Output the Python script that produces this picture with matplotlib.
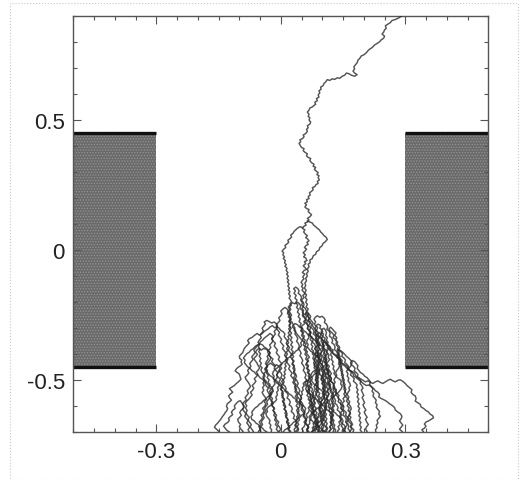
import matplotlib
matplotlib.use("Agg")
import matplotlib.pyplot as plt
from matplotlib.patches import Rectangle
from matplotlib.ticker import MultipleLocator, FixedLocator

plt.rcParams['font.family'] = ['Liberation Sans', 'DejaVu Sans']
plt.rcParams['hatch.linewidth'] = 0.6

# ---- axis ranges and ticks ----
x_limits = (-0.5, 0.5)
y_limits = (-0.7, 0.9)
x_major_ticks = [-0.3, 0.0, 0.3]
x_tick_labels = ['-0.3', '0', '0.3']
y_major_ticks = [-0.5, 0.0, 0.5]
y_tick_labels = ['-0.5', '0', '0.5']

# ---- electrode blocks: (x_left, x_right, y_bottom, y_top) ----
block_left = (-0.5, -0.3, -0.45, 0.45)
block_right = (0.3, 0.5, -0.45, 0.45)

# ---- particle trajectories (x, y) ----
walk_a = [(0.080,-0.705),(0.076,-0.696),(0.082,-0.690),(0.079,-0.682),(0.085,-0.676),(0.083,-0.668),(0.088,-0.662),(0.084,-0.654),(0.086,-0.646),(0.080,-0.640),(0.082,-0.632),(0.076,-0.626),(0.072,-0.618),(0.075,-0.610),(0.070,-0.604),(0.073,-0.596),(0.068,-0.588),(0.071,-0.580),(0.066,-0.574),(0.068,-0.566),(0.063,-0.558),(0.066,-0.550),(0.062,-0.542),(0.067,-0.536),(0.071,-0.528),(0.068,-0.520),(0.073,-0.514),(0.070,-0.506),(0.066,-0.498),(0.070,-0.490),(0.066,-0.484),(0.069,-0.476),(0.064,-0.470),(0.066,-0.462),(0.062,-0.454),(0.065,-0.446),(0.060,-0.440),(0.063,-0.432),(0.067,-0.426),(0.064,-0.418),(0.069,-0.412),(0.066,-0.404),(0.062,-0.398),(0.064,-0.390),(0.060,-0.382),(0.063,-0.374),(0.058,-0.368),(0.061,-0.360),(0.056,-0.354),(0.059,-0.346),(0.054,-0.338),(0.057,-0.330),(0.052,-0.324),(0.055,-0.316),(0.050,-0.310),(0.053,-0.302),(0.049,-0.294),(0.053,-0.288),(0.058,-0.282),(0.055,-0.274),(0.060,-0.268),(0.057,-0.260),(0.053,-0.254),(0.056,-0.246),(0.052,-0.240),(0.055,-0.232),(0.051,-0.224),(0.054,-0.216),(0.050,-0.210),(0.053,-0.202),(0.049,-0.196),(0.052,-0.188),(0.056,-0.182),(0.053,-0.174),(0.058,-0.168),(0.055,-0.160),(0.051,-0.154),(0.054,-0.146),(0.050,-0.140),(0.053,-0.132),(0.049,-0.124),(0.052,-0.116),(0.056,-0.110),(0.053,-0.104),(0.054,-0.100),
          (0.058,-0.092),(0.052,-0.086),(0.056,-0.078),(0.062,-0.074),(0.058,-0.066),(0.054,-0.060),(0.060,-0.052),(0.057,-0.044),(0.063,-0.040),(0.060,-0.030),(0.055,-0.026),(0.059,-0.018),(0.054,-0.010),(0.058,-0.004),(0.062,0.004),(0.057,0.010),(0.061,0.018),(0.066,0.022),(0.063,0.030),(0.068,0.036),(0.064,0.044),(0.060,0.048),(0.064,0.056),(0.059,0.062),(0.055,0.070),(0.058,0.078),(0.052,0.084),(0.056,0.092),(0.061,0.096),(0.058,0.104),(0.064,0.108),(0.068,0.116),(0.064,0.122),(0.070,0.128),(0.074,0.136),(0.070,0.142),(0.066,0.148),(0.068,0.156),(0.062,0.160),(0.058,0.166),(0.062,0.174),(0.058,0.180),(0.064,0.186),(0.062,0.194),(0.068,0.198),(0.066,0.206),(0.071,0.212),(0.069,0.220),(0.074,0.226),(0.078,0.232),(0.076,0.240),(0.082,0.244),(0.085,0.252),(0.090,0.256),(0.088,0.264),(0.093,0.270),(0.090,0.278),(0.092,0.286),(0.087,0.290),(0.090,0.298),(0.085,0.304),(0.081,0.310),(0.084,0.318),(0.078,0.322),(0.080,0.330),(0.074,0.336),(0.070,0.344),(0.072,0.352),(0.066,0.356),(0.062,0.362),(0.064,0.370),(0.058,0.376),(0.054,0.382),(0.056,0.390),(0.050,0.394),(0.047,0.402),(0.044,0.410),(0.048,0.416),(0.046,0.424),(0.052,0.428),(0.056,0.436),(0.054,0.442),(0.060,0.448),(0.064,0.456),(0.062,0.464),(0.066,0.470),(0.064,0.478),(0.070,0.484),(0.072,0.492),(0.068,0.500),(0.070,0.508),(0.066,0.514),(0.068,0.522),(0.064,0.530),(0.068,0.538),(0.070,0.546),(0.076,0.550),(0.080,0.556),(0.084,0.560),(0.082,0.568),(0.088,0.574),(0.086,0.582),(0.092,0.588),(0.090,0.596),(0.094,0.604),(0.092,0.612),(0.097,0.618),(0.096,0.626),(0.102,0.632),(0.104,0.640),(0.108,0.646),(0.112,0.655),(0.118,0.652),(0.124,0.658),(0.130,0.656),(0.136,0.662),(0.142,0.660),(0.148,0.668),(0.154,0.672),(0.158,0.680),(0.164,0.678),(0.170,0.672),(0.178,0.668),(0.184,0.674),(0.178,0.680),(0.174,0.688),(0.178,0.696),(0.176,0.704),(0.180,0.712),(0.184,0.720),(0.186,0.730),(0.190,0.736),(0.194,0.746),(0.200,0.750),(0.206,0.758),(0.210,0.766),(0.214,0.772),(0.220,0.778),(0.226,0.788),(0.232,0.794),(0.238,0.800),(0.242,0.808),(0.248,0.814),(0.250,0.822),(0.244,0.830),(0.248,0.838),(0.250,0.846),(0.254,0.852),(0.252,0.862),(0.258,0.868),(0.264,0.874),(0.268,0.882),(0.276,0.886),(0.284,0.892),(0.290,0.898),(0.296,0.905)]

walk_b = [(0.020,-0.705),(0.024,-0.696),(0.019,-0.688),(0.022,-0.680),(0.017,-0.672),(0.020,-0.664),(0.014,-0.658),(0.017,-0.650),(0.012,-0.642),(0.015,-0.634),(0.010,-0.626),(0.013,-0.618),(0.008,-0.610),(0.011,-0.602),(0.006,-0.596),(0.009,-0.588),(0.004,-0.580),(0.008,-0.572),(0.003,-0.566),(0.006,-0.558),(0.002,-0.550),(0.005,-0.542),(0.000,-0.536),(0.004,-0.528),(0.001,-0.520),(0.005,-0.512),(0.002,-0.504),(0.006,-0.498),(0.010,-0.490),(0.007,-0.482),(0.011,-0.476),(0.008,-0.468),(0.012,-0.460),(0.009,-0.452),(0.013,-0.446),(0.010,-0.438),(0.014,-0.430),(0.011,-0.422),(0.015,-0.416),(0.012,-0.408),(0.016,-0.400),(0.013,-0.392),(0.017,-0.386),(0.014,-0.378),(0.018,-0.370),(0.015,-0.362),(0.019,-0.356),(0.016,-0.348),(0.020,-0.340),(0.017,-0.332),(0.021,-0.326),(0.018,-0.318),(0.022,-0.310),(0.019,-0.302),(0.023,-0.296),(0.020,-0.288),(0.024,-0.280),(0.021,-0.272),(0.025,-0.266),(0.022,-0.258),(0.026,-0.250),(0.023,-0.242),(0.020,-0.236),(0.024,-0.228),(0.021,-0.220),(0.025,-0.212),(0.022,-0.206),(0.026,-0.198),(0.023,-0.190),(0.020,-0.184),(0.023,-0.176),(0.019,-0.168),(0.022,-0.160),(0.018,-0.152),(0.021,-0.146),(0.017,-0.138),(0.020,-0.130),(0.016,-0.122),(0.019,-0.116),(0.015,-0.108),(0.018,-0.100),(0.014,-0.092),(0.017,-0.086),(0.013,-0.078),(0.015,-0.070),(0.010,-0.062),(0.013,-0.056),(0.009,-0.048),(0.011,-0.040),(0.006,-0.032),(0.009,-0.026),(0.005,-0.018),(0.007,-0.010),(0.003,-0.004),(0.007,0.004),(0.012,0.010),(0.010,0.018),(0.015,0.024),(0.019,0.030),(0.017,0.038),(0.022,0.044),(0.026,0.050),(0.024,0.058),(0.029,0.064),(0.032,0.072),(0.036,0.078),(0.040,0.084),(0.046,0.090),(0.052,0.087)]

walk_c = [(0.110,-0.705),(0.106,-0.694),(0.111,-0.686),(0.107,-0.676),(0.104,-0.668),(0.108,-0.658),(0.103,-0.650),(0.106,-0.640),(0.101,-0.632),(0.098,-0.622),(0.102,-0.614),(0.097,-0.604),(0.100,-0.596),(0.095,-0.586),(0.092,-0.578),(0.096,-0.568),(0.091,-0.560),(0.094,-0.550),(0.089,-0.542),(0.092,-0.532),(0.087,-0.524),(0.090,-0.514),(0.086,-0.506),(0.089,-0.496),(0.084,-0.488),(0.087,-0.478),(0.082,-0.470),(0.085,-0.460),(0.080,-0.452),(0.083,-0.442),(0.079,-0.434),(0.082,-0.424),(0.077,-0.416),(0.080,-0.406),(0.076,-0.398),(0.079,-0.388),(0.074,-0.380),(0.077,-0.370),(0.073,-0.362),(0.076,-0.352),(0.071,-0.344),(0.074,-0.334),(0.070,-0.326),(0.073,-0.316),(0.069,-0.308),(0.072,-0.298),(0.067,-0.290),(0.070,-0.280),(0.066,-0.272),(0.069,-0.262),(0.064,-0.254),(0.067,-0.244),(0.063,-0.236),(0.066,-0.226),(0.061,-0.218),(0.064,-0.208),(0.060,-0.200),(0.063,-0.190),(0.059,-0.182),(0.062,-0.172),(0.058,-0.164),(0.061,-0.154),(0.057,-0.146),(0.060,-0.136),(0.058,-0.126),(0.062,-0.118),(0.060,-0.108),(0.064,-0.100),(0.062,-0.090),(0.066,-0.082),(0.064,-0.072),(0.068,-0.064),(0.066,-0.054),(0.071,-0.048),(0.070,-0.038),(0.076,-0.032),(0.078,-0.022),(0.084,-0.016),(0.086,-0.006),(0.092,0.000),(0.094,0.010),(0.099,0.016),(0.102,0.026),(0.107,0.032),(0.112,0.041),(0.109,0.050),(0.104,0.056),(0.100,0.064),(0.096,0.070),(0.093,0.078),(0.088,0.084),(0.084,0.090),(0.079,0.096),(0.076,0.104),(0.070,0.108),(0.064,0.112)]

walk_d = [(-0.153,-0.705),(-0.149,-0.696),(-0.155,-0.688),(-0.160,-0.680),(-0.157,-0.672),(-0.152,-0.664),(-0.148,-0.656),(-0.144,-0.648),(-0.141,-0.640),(-0.137,-0.632),(-0.134,-0.624),(-0.130,-0.616),(-0.128,-0.608),(-0.131,-0.600),(-0.129,-0.590),(-0.124,-0.584),(-0.119,-0.576),(-0.123,-0.568),(-0.126,-0.560),(-0.121,-0.552),(-0.116,-0.546),(-0.120,-0.538),(-0.124,-0.532),(-0.118,-0.526),(-0.112,-0.520),(-0.107,-0.512),(-0.101,-0.504),(-0.096,-0.496),(-0.098,-0.486),(-0.100,-0.476),(-0.105,-0.470),(-0.110,-0.464),(-0.107,-0.456),(-0.103,-0.450),(-0.097,-0.444),(-0.093,-0.438),(-0.096,-0.430),(-0.094,-0.422),(-0.099,-0.416),(-0.100,-0.408),(-0.096,-0.400),(-0.092,-0.394),(-0.090,-0.386),(-0.088,-0.378),(-0.084,-0.370),(-0.079,-0.362),(-0.076,-0.356),(-0.080,-0.348),(-0.076,-0.340),(-0.069,-0.335),(-0.064,-0.328),(-0.057,-0.320),(-0.052,-0.326),(-0.046,-0.322),(-0.041,-0.314),(-0.036,-0.308),(-0.030,-0.302),(-0.025,-0.294),(-0.020,-0.290),(-0.015,-0.298),(-0.009,-0.294),(-0.004,-0.300),(0.000,-0.308),(0.006,-0.314),(0.010,-0.322),(0.008,-0.332),(0.012,-0.340),(0.016,-0.348),(0.013,-0.358),(0.017,-0.366),(0.021,-0.374),(0.018,-0.384),(0.022,-0.392),(0.026,-0.400),(0.023,-0.410),(0.027,-0.418),(0.030,-0.428),(0.027,-0.438),(0.031,-0.446),(0.034,-0.456),(0.031,-0.466),(0.035,-0.474),(0.038,-0.484),(0.035,-0.494),(0.039,-0.502),(0.042,-0.512),(0.039,-0.522),(0.043,-0.530),(0.046,-0.540),(0.043,-0.550),(0.047,-0.558),(0.050,-0.568),(0.047,-0.578),(0.051,-0.586),(0.054,-0.596),(0.051,-0.606),(0.055,-0.614),(0.058,-0.624),(0.055,-0.634),(0.059,-0.642),(0.062,-0.652),(0.059,-0.662),(0.063,-0.670),(0.066,-0.680),(0.063,-0.690),(0.066,-0.705)]

walk_e = [(0.050,-0.705),(0.054,-0.696),(0.051,-0.686),(0.056,-0.678),(0.059,-0.668),(0.056,-0.660),(0.061,-0.650),(0.064,-0.642),(0.061,-0.632),(0.066,-0.624),(0.069,-0.614),(0.066,-0.606),(0.071,-0.596),(0.074,-0.588),(0.071,-0.578),(0.076,-0.570),(0.079,-0.560),(0.076,-0.552),(0.080,-0.542),(0.083,-0.534),(0.080,-0.524),(0.084,-0.516),(0.087,-0.506),(0.084,-0.498),(0.088,-0.488),(0.085,-0.478),(0.089,-0.470),(0.086,-0.460),(0.090,-0.452),(0.087,-0.442),(0.091,-0.434),(0.088,-0.424),(0.092,-0.416),(0.089,-0.406),(0.093,-0.398),(0.090,-0.388),(0.094,-0.380),(0.091,-0.370),(0.095,-0.362),(0.092,-0.352),(0.088,-0.344),(0.091,-0.334),(0.087,-0.326),(0.090,-0.316),(0.086,-0.308),(0.089,-0.298),(0.085,-0.290),(0.090,-0.284),(0.096,-0.290),(0.094,-0.300),(0.099,-0.306),(0.097,-0.316),(0.103,-0.322),(0.101,-0.332),(0.107,-0.338),(0.105,-0.348),(0.111,-0.354),(0.109,-0.364),(0.116,-0.370),(0.120,-0.378),(0.126,-0.384),(0.124,-0.394),(0.130,-0.400),(0.136,-0.406),(0.142,-0.414),(0.148,-0.424),(0.146,-0.432),(0.152,-0.438),(0.158,-0.444),(0.162,-0.452),(0.166,-0.462),(0.172,-0.466),(0.178,-0.472),(0.180,-0.482),(0.186,-0.488),(0.192,-0.494),(0.198,-0.500),(0.204,-0.506),(0.210,-0.502),(0.216,-0.508),(0.222,-0.512),(0.228,-0.506),(0.234,-0.502),(0.240,-0.508),(0.246,-0.512),(0.252,-0.506),(0.258,-0.500),(0.264,-0.496),(0.270,-0.502),(0.276,-0.506),(0.282,-0.500),(0.288,-0.498),(0.294,-0.504),(0.300,-0.512),(0.304,-0.520),(0.310,-0.528),(0.316,-0.536),(0.314,-0.546),(0.318,-0.554),(0.324,-0.560),(0.326,-0.570),(0.324,-0.580),(0.330,-0.586),(0.336,-0.592),(0.338,-0.602),(0.344,-0.608),(0.350,-0.616),(0.356,-0.622),(0.360,-0.630),(0.366,-0.636),(0.368,-0.644),(0.362,-0.650),(0.356,-0.656),(0.350,-0.660),(0.346,-0.668),(0.350,-0.676),(0.346,-0.684),(0.340,-0.690),(0.344,-0.698),(0.342,-0.705)]

walk_f = [(0.120,-0.705),(0.116,-0.696),(0.121,-0.688),(0.118,-0.678),(0.123,-0.670),(0.120,-0.660),(0.125,-0.652),(0.122,-0.642),(0.127,-0.634),(0.124,-0.624),(0.128,-0.616),(0.125,-0.606),(0.129,-0.598),(0.126,-0.588),(0.122,-0.580),(0.125,-0.570),(0.121,-0.562),(0.124,-0.552),(0.119,-0.544),(0.122,-0.534),(0.117,-0.526),(0.120,-0.516),(0.115,-0.508),(0.118,-0.498),(0.113,-0.490),(0.116,-0.480),(0.111,-0.472),(0.114,-0.462),(0.109,-0.454),(0.112,-0.444),(0.107,-0.436),(0.110,-0.426),(0.105,-0.418),(0.108,-0.408),(0.103,-0.400),(0.106,-0.390),(0.101,-0.382),(0.104,-0.372),(0.100,-0.364),(0.104,-0.354),(0.110,-0.358),(0.114,-0.366),(0.112,-0.376),(0.118,-0.382),(0.124,-0.388),(0.126,-0.398),(0.132,-0.406),(0.136,-0.414),(0.142,-0.420),(0.144,-0.430),(0.148,-0.438),(0.154,-0.444),(0.158,-0.452),(0.164,-0.460),(0.170,-0.466),(0.174,-0.474),(0.176,-0.484),(0.182,-0.490),(0.188,-0.498),(0.194,-0.506),(0.200,-0.514),(0.206,-0.520),(0.212,-0.518),(0.218,-0.524),(0.224,-0.532),(0.228,-0.540),(0.234,-0.546),(0.238,-0.554),(0.236,-0.564),(0.242,-0.570),(0.250,-0.576),(0.256,-0.582),(0.262,-0.590),(0.268,-0.596),(0.274,-0.604),(0.276,-0.614),(0.282,-0.622),(0.288,-0.628),(0.292,-0.638),(0.290,-0.648),(0.286,-0.656),(0.290,-0.664),(0.294,-0.672),(0.290,-0.680),(0.286,-0.688),(0.292,-0.696),(0.296,-0.705)]

walk_g = [(-0.070,-0.705),(-0.066,-0.696),(-0.070,-0.688),(-0.074,-0.678),(-0.071,-0.670),(-0.076,-0.660),(-0.079,-0.652),(-0.076,-0.642),(-0.081,-0.634),(-0.084,-0.624),(-0.081,-0.616),(-0.085,-0.606),(-0.082,-0.598),(-0.086,-0.588),(-0.082,-0.580),(-0.077,-0.572),(-0.073,-0.564),(-0.069,-0.556),(-0.073,-0.546),(-0.068,-0.538),(-0.065,-0.530),(-0.069,-0.520),(-0.064,-0.512),(-0.060,-0.504),(-0.064,-0.494),(-0.059,-0.486),(-0.055,-0.478),(-0.059,-0.468),(-0.054,-0.460),(-0.051,-0.452),(-0.055,-0.442),(-0.058,-0.432),(-0.062,-0.424),(-0.065,-0.416),(-0.060,-0.408),(-0.056,-0.400),(-0.061,-0.392),(-0.058,-0.384),(-0.053,-0.378),(-0.047,-0.384),(-0.042,-0.378),(-0.036,-0.380),(-0.030,-0.386),(-0.026,-0.394),(-0.029,-0.404),(-0.024,-0.412),(-0.019,-0.418),(-0.022,-0.428),(-0.018,-0.436),(-0.013,-0.444),(-0.016,-0.454),(-0.012,-0.462),(-0.007,-0.470),(-0.010,-0.480),(-0.006,-0.488),(-0.001,-0.496),(-0.004,-0.506),(0.000,-0.514),(0.003,-0.524),(-0.001,-0.532),(0.003,-0.540),(0.006,-0.550),(0.002,-0.558),(0.006,-0.566),(0.009,-0.576),(0.005,-0.584),(0.009,-0.592),(0.012,-0.602),(0.008,-0.610),(0.012,-0.618),(0.015,-0.628),(0.011,-0.636),(0.015,-0.644),(0.018,-0.654),(0.014,-0.662),(0.018,-0.670),(0.021,-0.680),(0.017,-0.688),(0.021,-0.696),(0.019,-0.705)]

walk_h = [(-0.095,-0.705),(-0.091,-0.696),(-0.096,-0.688),(-0.100,-0.678),(-0.097,-0.670),(-0.102,-0.660),(-0.104,-0.650),(-0.099,-0.642),(-0.095,-0.634),(-0.099,-0.624),(-0.096,-0.616),(-0.091,-0.608),(-0.088,-0.600),(-0.092,-0.590),(-0.088,-0.582),(-0.083,-0.576),(-0.086,-0.566),(-0.082,-0.558),(-0.078,-0.550),(-0.081,-0.540),(-0.077,-0.532),(-0.073,-0.524),(-0.076,-0.514),(-0.080,-0.504),(-0.084,-0.496),(-0.086,-0.488),(-0.081,-0.480),(-0.077,-0.472),(-0.080,-0.462),(-0.076,-0.454),(-0.072,-0.446),(-0.075,-0.436),(-0.071,-0.428),(-0.067,-0.420),(-0.070,-0.410),(-0.066,-0.402),(-0.062,-0.394),(-0.065,-0.384),(-0.061,-0.376),(-0.057,-0.368),(-0.052,-0.360),(-0.049,-0.352),(-0.044,-0.346),(-0.040,-0.338),(-0.035,-0.332),(-0.030,-0.326),(-0.026,-0.320),(-0.021,-0.326),(-0.018,-0.334),(-0.022,-0.342),(-0.018,-0.350),(-0.013,-0.358),(-0.016,-0.368),(-0.012,-0.376),(-0.008,-0.384),(-0.011,-0.394),(-0.007,-0.402),(-0.003,-0.410),(-0.006,-0.420),(-0.002,-0.428),(0.002,-0.436),(-0.001,-0.446),(0.002,-0.454),(-0.002,-0.462),(-0.006,-0.470),(-0.010,-0.478),(-0.008,-0.488),(-0.012,-0.496),(-0.016,-0.504),(-0.014,-0.514),(-0.018,-0.522),(-0.022,-0.530),(-0.020,-0.540),(-0.024,-0.548),(-0.028,-0.556),(-0.026,-0.566),(-0.030,-0.574),(-0.034,-0.582),(-0.032,-0.592),(-0.036,-0.600),(-0.039,-0.608),(-0.036,-0.618),(-0.040,-0.626),(-0.043,-0.634),(-0.040,-0.644),(-0.044,-0.652),(-0.047,-0.660),(-0.044,-0.670),(-0.048,-0.678),(-0.051,-0.686),(-0.048,-0.696),(-0.050,-0.705)]

walk_i = [(0.090,-0.705),(0.094,-0.696),(0.090,-0.688),(0.093,-0.678),(0.088,-0.670),(0.091,-0.660),(0.086,-0.652),(0.089,-0.642),(0.084,-0.634),(0.087,-0.624),(0.082,-0.616),(0.085,-0.606),(0.080,-0.598),(0.083,-0.588),(0.078,-0.580),(0.081,-0.570),(0.076,-0.562),(0.079,-0.552),(0.074,-0.544),(0.077,-0.534),(0.072,-0.526),(0.075,-0.516),(0.070,-0.508),(0.073,-0.498),(0.068,-0.490),(0.071,-0.480),(0.066,-0.472),(0.069,-0.462),(0.064,-0.454),(0.067,-0.444),(0.062,-0.436),(0.065,-0.426),(0.060,-0.418),(0.063,-0.408),(0.058,-0.400),(0.061,-0.390),(0.056,-0.382),(0.059,-0.372),(0.054,-0.364),(0.057,-0.354),(0.052,-0.346),(0.055,-0.336),(0.050,-0.328),(0.053,-0.318),(0.048,-0.310),(0.051,-0.300),(0.046,-0.292),(0.049,-0.282),(0.044,-0.274),(0.047,-0.264),(0.042,-0.256),(0.045,-0.246),(0.040,-0.238),(0.043,-0.228),(0.038,-0.220),(0.041,-0.210),(0.036,-0.202),(0.039,-0.192),(0.034,-0.184),(0.037,-0.174),(0.032,-0.166),(0.035,-0.156),(0.031,-0.148),(0.036,-0.142),(0.041,-0.148),(0.044,-0.156),(0.042,-0.166),(0.047,-0.172),(0.050,-0.182),(0.048,-0.192),(0.053,-0.198),(0.056,-0.208),(0.054,-0.218),(0.059,-0.224),(0.062,-0.234),(0.060,-0.244),(0.065,-0.250),(0.068,-0.260),(0.066,-0.270),(0.071,-0.276),(0.074,-0.286),(0.072,-0.296),(0.077,-0.302),(0.080,-0.312),(0.078,-0.322),(0.083,-0.328),(0.086,-0.338),(0.084,-0.348),(0.089,-0.354),(0.092,-0.364),(0.090,-0.374),(0.095,-0.380),(0.098,-0.390),(0.096,-0.400),(0.101,-0.406),(0.104,-0.416),(0.102,-0.426),(0.107,-0.432),(0.110,-0.442),(0.108,-0.452),(0.113,-0.458),(0.116,-0.468),(0.114,-0.478),(0.119,-0.484),(0.122,-0.494),(0.120,-0.504),(0.125,-0.510),(0.128,-0.520),(0.126,-0.530),(0.131,-0.536),(0.134,-0.546),(0.132,-0.556),(0.137,-0.562),(0.140,-0.572),(0.138,-0.582),(0.143,-0.588),(0.146,-0.598),(0.144,-0.608),(0.149,-0.614),(0.152,-0.624),(0.150,-0.634),(0.155,-0.640),(0.158,-0.650),(0.156,-0.660),(0.161,-0.666),(0.164,-0.676),(0.162,-0.686),(0.166,-0.694),(0.168,-0.705)]

walk_j = [(0.140,-0.705),(0.136,-0.696),(0.141,-0.688),(0.138,-0.678),(0.143,-0.670),(0.140,-0.660),(0.145,-0.652),(0.142,-0.642),(0.147,-0.634),(0.144,-0.624),(0.149,-0.616),(0.146,-0.606),(0.151,-0.598),(0.148,-0.588),(0.153,-0.580),(0.150,-0.570),(0.155,-0.562),(0.152,-0.552),(0.156,-0.544),(0.152,-0.534),(0.155,-0.526),(0.150,-0.516),(0.153,-0.508),(0.148,-0.498),(0.151,-0.490),(0.146,-0.480),(0.149,-0.472),(0.144,-0.462),(0.147,-0.454),(0.142,-0.444),(0.145,-0.436),(0.140,-0.426),(0.143,-0.418),(0.138,-0.408),(0.141,-0.400),(0.136,-0.390),(0.139,-0.382),(0.144,-0.386),(0.149,-0.392),(0.154,-0.400),(0.158,-0.408),(0.163,-0.414),(0.168,-0.422),(0.172,-0.430),(0.170,-0.440),(0.175,-0.446),(0.179,-0.454),(0.177,-0.464),(0.182,-0.470),(0.186,-0.478),(0.184,-0.488),(0.189,-0.494),(0.193,-0.502),(0.191,-0.512),(0.195,-0.520),(0.198,-0.530),(0.194,-0.538),(0.197,-0.548),(0.200,-0.558),(0.196,-0.566),(0.199,-0.576),(0.202,-0.586),(0.198,-0.594),(0.201,-0.604),(0.205,-0.614),(0.201,-0.622),(0.204,-0.632),(0.208,-0.642),(0.204,-0.650),(0.207,-0.660),(0.211,-0.670),(0.207,-0.678),(0.204,-0.688),(0.208,-0.696),(0.205,-0.705)]

walk_k = [(0.070,-0.705),(0.075,-0.698),(0.080,-0.690),(0.085,-0.684),(0.090,-0.676),(0.088,-0.666),(0.093,-0.660),(0.097,-0.652),(0.095,-0.642),(0.100,-0.636),(0.104,-0.628),(0.102,-0.618),(0.107,-0.612),(0.110,-0.604),(0.107,-0.594),(0.111,-0.586),(0.114,-0.578),(0.110,-0.568),(0.113,-0.560),(0.116,-0.552),(0.112,-0.542),(0.115,-0.534),(0.118,-0.526),(0.114,-0.516),(0.117,-0.508),(0.120,-0.500),(0.116,-0.490),(0.119,-0.482),(0.122,-0.474),(0.118,-0.464),(0.114,-0.456),(0.117,-0.446),(0.112,-0.438),(0.108,-0.430),(0.111,-0.420),(0.106,-0.412),(0.109,-0.402),(0.104,-0.394),(0.107,-0.384),(0.102,-0.376),(0.105,-0.366),(0.100,-0.358),(0.103,-0.348),(0.098,-0.340),(0.101,-0.330),(0.096,-0.322),(0.092,-0.316),(0.090,-0.326),(0.094,-0.334),(0.090,-0.344),(0.086,-0.352),(0.090,-0.362),(0.086,-0.370),(0.082,-0.378),(0.086,-0.388),(0.082,-0.396),(0.086,-0.406),(0.082,-0.414),(0.080,-0.424),(0.084,-0.432),(0.080,-0.442),(0.085,-0.450),(0.090,-0.456),(0.094,-0.464),(0.091,-0.474),(0.096,-0.480),(0.100,-0.488),(0.097,-0.498),(0.102,-0.504),(0.100,-0.514),(0.104,-0.522),(0.101,-0.532),(0.105,-0.540),(0.102,-0.550),(0.106,-0.558),(0.103,-0.568),(0.107,-0.576),(0.104,-0.586),(0.108,-0.594),(0.105,-0.604),(0.109,-0.612),(0.106,-0.622),(0.110,-0.630),(0.107,-0.640),(0.111,-0.648),(0.108,-0.658),(0.112,-0.666),(0.109,-0.676),(0.113,-0.684),(0.110,-0.694),(0.112,-0.705)]

walk_l = [(-0.010,-0.705),(-0.006,-0.696),(-0.011,-0.688),(-0.008,-0.678),(-0.013,-0.670),(-0.010,-0.660),(-0.015,-0.652),(-0.012,-0.642),(-0.017,-0.634),(-0.014,-0.624),(-0.019,-0.616),(-0.016,-0.606),(-0.021,-0.598),(-0.018,-0.588),(-0.023,-0.580),(-0.020,-0.570),(-0.025,-0.562),(-0.022,-0.552),(-0.027,-0.544),(-0.024,-0.534),(-0.029,-0.526),(-0.026,-0.516),(-0.031,-0.508),(-0.028,-0.498),(-0.033,-0.490),(-0.030,-0.480),(-0.035,-0.472),(-0.032,-0.462),(-0.036,-0.454),(-0.033,-0.444),(-0.037,-0.436),(-0.034,-0.426),(-0.030,-0.418),(-0.033,-0.408),(-0.029,-0.400),(-0.032,-0.390),(-0.028,-0.382),(-0.024,-0.374),(-0.027,-0.364),(-0.022,-0.356),(-0.019,-0.348),(-0.022,-0.338),(-0.017,-0.330),(-0.013,-0.322),(-0.016,-0.312),(-0.011,-0.304),(-0.008,-0.296),(-0.011,-0.286),(-0.006,-0.278),(-0.002,-0.270),(-0.005,-0.260),(0.000,-0.252),(0.003,-0.244),(0.000,-0.234),(0.005,-0.226),(0.010,-0.220),(0.015,-0.226),(0.018,-0.234),(0.016,-0.244),(0.021,-0.250),(0.024,-0.260),(0.022,-0.270),(0.027,-0.276),(0.030,-0.286),(0.028,-0.296),(0.033,-0.302),(0.036,-0.312),(0.034,-0.322),(0.038,-0.330),(0.041,-0.340),(0.038,-0.350),(0.042,-0.358),(0.045,-0.368),(0.042,-0.378),(0.046,-0.386),(0.049,-0.396),(0.046,-0.406),(0.050,-0.414),(0.053,-0.424),(0.050,-0.434),(0.054,-0.442),(0.057,-0.452),(0.054,-0.462),(0.058,-0.470),(0.061,-0.480),(0.058,-0.490),(0.062,-0.498),(0.065,-0.508),(0.062,-0.518),(0.066,-0.526),(0.069,-0.536),(0.066,-0.546),(0.070,-0.554),(0.073,-0.564),(0.070,-0.574),(0.074,-0.582),(0.077,-0.592),(0.074,-0.602),(0.078,-0.610),(0.081,-0.620),(0.078,-0.630),(0.082,-0.638),(0.085,-0.648),(0.082,-0.658),(0.086,-0.666),(0.089,-0.676),(0.086,-0.686),(0.090,-0.694),(0.092,-0.705)]

walk_m = [(0.170,-0.705),(0.166,-0.696),(0.171,-0.688),(0.168,-0.678),(0.173,-0.670),(0.170,-0.660),(0.166,-0.652),(0.169,-0.642),(0.164,-0.634),(0.167,-0.624),(0.162,-0.616),(0.165,-0.606),(0.160,-0.598),(0.163,-0.588),(0.158,-0.580),(0.161,-0.570),(0.156,-0.562),(0.159,-0.552),(0.154,-0.544),(0.157,-0.534),(0.152,-0.526),(0.155,-0.516),(0.150,-0.508),(0.153,-0.498),(0.148,-0.490),(0.151,-0.480),(0.146,-0.472),(0.149,-0.462),(0.144,-0.454),(0.147,-0.444),(0.142,-0.436),(0.145,-0.426),(0.140,-0.418),(0.143,-0.408),(0.138,-0.400),(0.141,-0.390),(0.136,-0.382),(0.139,-0.372),(0.134,-0.364),(0.137,-0.354),(0.132,-0.346),(0.135,-0.336),(0.130,-0.328),(0.133,-0.318),(0.128,-0.310),(0.124,-0.302),(0.120,-0.296),(0.116,-0.302),(0.119,-0.312),(0.124,-0.318),(0.128,-0.326),(0.126,-0.336),(0.131,-0.342),(0.135,-0.350),(0.133,-0.360),(0.138,-0.366),(0.142,-0.374),(0.140,-0.384),(0.145,-0.390),(0.149,-0.398),(0.147,-0.408),(0.152,-0.414),(0.156,-0.422),(0.154,-0.432),(0.159,-0.438),(0.163,-0.446),(0.161,-0.456),(0.166,-0.462),(0.170,-0.470),(0.168,-0.480),(0.173,-0.486),(0.177,-0.494),(0.175,-0.504),(0.180,-0.510),(0.184,-0.518),(0.182,-0.528),(0.186,-0.536),(0.183,-0.546),(0.187,-0.554),(0.184,-0.564),(0.188,-0.572),(0.185,-0.582),(0.189,-0.590),(0.186,-0.600),(0.190,-0.608),(0.187,-0.618),(0.191,-0.626),(0.188,-0.636),(0.192,-0.644),(0.189,-0.654),(0.193,-0.662),(0.190,-0.672),(0.194,-0.680),(0.191,-0.690),(0.195,-0.698),(0.192,-0.705)]

walk_n = [(-0.050,-0.705),(-0.054,-0.696),(-0.049,-0.688),(-0.053,-0.678),(-0.048,-0.670),(-0.052,-0.660),(-0.047,-0.652),(-0.044,-0.642),(-0.048,-0.634),(-0.043,-0.626),(-0.040,-0.616),(-0.044,-0.608),(-0.039,-0.600),(-0.036,-0.590),(-0.040,-0.582),(-0.035,-0.574),(-0.038,-0.564),(-0.042,-0.556),(-0.045,-0.546),(-0.041,-0.538),(-0.044,-0.528),(-0.040,-0.520),(-0.043,-0.510),(-0.039,-0.502),(-0.042,-0.492),(-0.038,-0.484),(-0.041,-0.474),(-0.036,-0.466),(-0.039,-0.456),(-0.034,-0.448),(-0.030,-0.440),(-0.025,-0.434),(-0.020,-0.440),(-0.015,-0.446),(-0.010,-0.440),(-0.005,-0.446),(-0.002,-0.454),(-0.005,-0.464),(0.000,-0.470),(0.003,-0.480),(0.000,-0.490),(0.005,-0.496),(0.008,-0.506),(0.005,-0.516),(0.010,-0.522),(0.013,-0.532),(0.010,-0.542),(0.015,-0.548),(0.018,-0.558),(0.015,-0.568),(0.020,-0.574),(0.023,-0.584),(0.020,-0.594),(0.025,-0.600),(0.028,-0.610),(0.025,-0.620),(0.030,-0.626),(0.033,-0.636),(0.030,-0.646),(0.035,-0.652),(0.038,-0.662),(0.035,-0.672),(0.040,-0.678),(0.043,-0.688),(0.040,-0.698),(0.044,-0.705)]

walk_o = [(0.040,-0.705),(0.036,-0.696),(0.041,-0.688),(0.038,-0.678),(0.043,-0.670),(0.040,-0.660),(0.045,-0.652),(0.042,-0.642),(0.046,-0.634),(0.042,-0.624),(0.038,-0.616),(0.042,-0.606),(0.037,-0.598),(0.041,-0.588),(0.036,-0.580),(0.040,-0.570),(0.035,-0.562),(0.039,-0.552),(0.034,-0.544),(0.038,-0.534),(0.033,-0.526),(0.037,-0.516),(0.032,-0.508),(0.036,-0.498),(0.031,-0.490),(0.035,-0.480),(0.030,-0.472),(0.034,-0.462),(0.029,-0.454),(0.033,-0.444),(0.028,-0.436),(0.032,-0.426),(0.027,-0.418),(0.031,-0.408),(0.026,-0.400),(0.030,-0.390),(0.025,-0.382),(0.029,-0.372),(0.024,-0.364),(0.028,-0.354),(0.023,-0.346),(0.027,-0.336),(0.022,-0.328),(0.026,-0.318),(0.021,-0.310),(0.025,-0.300),(0.020,-0.292),(0.024,-0.282),(0.019,-0.274),(0.023,-0.264),(0.018,-0.256),(0.022,-0.246),(0.017,-0.238),(0.021,-0.228),(0.018,-0.218),(0.023,-0.210),(0.028,-0.202),(0.034,-0.206),(0.040,-0.200),(0.045,-0.206),(0.048,-0.214),(0.046,-0.224),(0.051,-0.230),(0.054,-0.240),(0.052,-0.250),(0.057,-0.256),(0.060,-0.266),(0.058,-0.276),(0.063,-0.282),(0.066,-0.292),(0.064,-0.302),(0.069,-0.308),(0.072,-0.318),(0.070,-0.328),(0.075,-0.334),(0.078,-0.344),(0.076,-0.354),(0.081,-0.360),(0.084,-0.370),(0.082,-0.380),(0.087,-0.386),(0.090,-0.396),(0.088,-0.406),(0.093,-0.412),(0.096,-0.422),(0.094,-0.432),(0.099,-0.438),(0.102,-0.448),(0.100,-0.458),(0.105,-0.464),(0.108,-0.474),(0.106,-0.484),(0.111,-0.490),(0.114,-0.500),(0.112,-0.510),(0.117,-0.516),(0.120,-0.526),(0.118,-0.536),(0.123,-0.542),(0.126,-0.552),(0.124,-0.562),(0.129,-0.568),(0.132,-0.578),(0.130,-0.588),(0.135,-0.594),(0.138,-0.604),(0.136,-0.614),(0.141,-0.620),(0.144,-0.630),(0.142,-0.640),(0.147,-0.646),(0.150,-0.656),(0.148,-0.666),(0.153,-0.672),(0.156,-0.682),(0.154,-0.692),(0.158,-0.705)]

walk_p = [(-0.120,-0.705),(-0.124,-0.698),(-0.130,-0.692),(-0.134,-0.684),(-0.138,-0.676),(-0.134,-0.668),(-0.128,-0.662),(-0.124,-0.654),(-0.126,-0.646),(-0.121,-0.638),(-0.116,-0.632),(-0.119,-0.622),(-0.115,-0.614),(-0.110,-0.608),(-0.112,-0.598),(-0.108,-0.590),(-0.103,-0.582),(-0.098,-0.578),(-0.094,-0.586),(-0.091,-0.594),(-0.089,-0.604),(-0.092,-0.612),(-0.088,-0.620),(-0.084,-0.628),(-0.087,-0.638),(-0.083,-0.646),(-0.079,-0.654),(-0.082,-0.664),(-0.078,-0.672),(-0.075,-0.680),(-0.079,-0.690),(-0.076,-0.698),(-0.078,-0.705)]

walk_q = [(0.000,-0.705),(-0.004,-0.696),(0.000,-0.688),(-0.004,-0.678),(-0.008,-0.670),(-0.005,-0.660),(-0.010,-0.652),(-0.013,-0.642),(-0.010,-0.634),(-0.015,-0.626),(-0.018,-0.616),(-0.015,-0.608),(-0.020,-0.600),(-0.023,-0.590),(-0.020,-0.582),(-0.025,-0.574),(-0.028,-0.564),(-0.025,-0.556),(-0.030,-0.548),(-0.033,-0.538),(-0.030,-0.530),(-0.035,-0.522),(-0.038,-0.512),(-0.035,-0.504),(-0.040,-0.496),(-0.043,-0.486),(-0.040,-0.478),(-0.045,-0.470),(-0.048,-0.460),(-0.045,-0.452),(-0.050,-0.444),(-0.047,-0.434),(-0.051,-0.426),(-0.048,-0.416),(-0.052,-0.408),(-0.049,-0.398),(-0.053,-0.390),(-0.050,-0.380),(-0.054,-0.372),(-0.051,-0.362),(-0.055,-0.354),(-0.051,-0.344),(-0.047,-0.336),(-0.050,-0.326),(-0.046,-0.318),(-0.042,-0.310),(-0.045,-0.300),(-0.041,-0.292),(-0.037,-0.284),(-0.040,-0.276),(-0.034,-0.270),(-0.028,-0.274),(-0.022,-0.280),(-0.016,-0.276),(-0.011,-0.282),(-0.008,-0.290),(-0.011,-0.300),(-0.007,-0.308),(-0.003,-0.316),(-0.006,-0.326),(-0.002,-0.334),(0.002,-0.342),(-0.001,-0.352),(0.003,-0.360),(0.007,-0.368),(0.004,-0.378),(0.008,-0.386),(0.012,-0.394),(0.009,-0.404),(0.013,-0.412),(0.017,-0.420),(0.014,-0.430),(0.018,-0.438),(0.022,-0.446),(0.019,-0.456),(0.023,-0.464),(0.027,-0.472),(0.024,-0.482),(0.028,-0.490),(0.032,-0.498),(0.029,-0.508),(0.033,-0.516),(0.037,-0.524),(0.034,-0.534),(0.038,-0.542),(0.042,-0.550),(0.039,-0.560),(0.043,-0.568),(0.047,-0.576),(0.044,-0.586),(0.048,-0.594),(0.052,-0.602),(0.049,-0.612),(0.053,-0.620),(0.057,-0.628),(0.054,-0.638),(0.058,-0.646),(0.062,-0.654),(0.059,-0.664),(0.063,-0.672),(0.067,-0.680),(0.064,-0.690),(0.068,-0.698),(0.066,-0.705)]

walk_r = [(0.100,-0.705),(0.104,-0.696),(0.100,-0.688),(0.104,-0.678),(0.100,-0.670),(0.097,-0.660),(0.101,-0.652),(0.097,-0.642),(0.094,-0.634),(0.098,-0.624),(0.094,-0.616),(0.091,-0.606),(0.095,-0.598),(0.091,-0.588),(0.088,-0.580),(0.092,-0.570),(0.088,-0.562),(0.085,-0.552),(0.089,-0.544),(0.085,-0.534),(0.088,-0.526),(0.084,-0.516),(0.087,-0.508),(0.083,-0.498),(0.086,-0.490),(0.090,-0.482),(0.094,-0.474),(0.091,-0.464),(0.094,-0.456),(0.090,-0.446),(0.093,-0.438),(0.089,-0.428),(0.092,-0.420),(0.088,-0.410),(0.091,-0.402),(0.087,-0.392),(0.090,-0.384),(0.086,-0.374),(0.089,-0.366),(0.085,-0.356),(0.088,-0.348),(0.084,-0.338),(0.087,-0.330),(0.083,-0.320),(0.086,-0.312),(0.082,-0.302),(0.085,-0.294),(0.081,-0.284),(0.084,-0.276),(0.080,-0.266),(0.083,-0.258),(0.088,-0.252),(0.094,-0.258),(0.099,-0.254),(0.104,-0.260),(0.107,-0.268),(0.105,-0.278),(0.110,-0.284),(0.113,-0.294),(0.111,-0.304),(0.116,-0.310),(0.119,-0.320),(0.117,-0.330),(0.122,-0.336),(0.125,-0.346),(0.123,-0.356),(0.128,-0.362),(0.131,-0.372),(0.129,-0.382),(0.134,-0.388),(0.137,-0.398),(0.135,-0.408),(0.139,-0.416),(0.142,-0.426),(0.139,-0.436),(0.142,-0.444),(0.139,-0.454),(0.135,-0.462),(0.132,-0.472),(0.135,-0.480),(0.131,-0.490),(0.128,-0.498),(0.131,-0.508),(0.127,-0.516),(0.130,-0.526),(0.126,-0.534),(0.129,-0.544),(0.125,-0.552),(0.128,-0.562),(0.124,-0.570),(0.127,-0.580),(0.123,-0.588),(0.126,-0.598),(0.122,-0.606),(0.125,-0.616),(0.121,-0.624),(0.124,-0.634),(0.120,-0.642),(0.123,-0.652),(0.119,-0.660),(0.122,-0.670),(0.118,-0.678),(0.121,-0.688),(0.117,-0.696),(0.120,-0.705)]

walk_s = [(0.060,-0.705),(0.064,-0.698),(0.062,-0.688),(0.067,-0.682),(0.066,-0.672),(0.070,-0.666),(0.069,-0.656),(0.073,-0.650),(0.072,-0.640),(0.076,-0.634),(0.074,-0.624),(0.078,-0.618),(0.076,-0.608),(0.080,-0.602),(0.078,-0.592),(0.082,-0.586),(0.080,-0.576),(0.084,-0.570),(0.082,-0.560),(0.086,-0.554),(0.084,-0.544),(0.088,-0.538),(0.086,-0.528),(0.090,-0.522),(0.088,-0.512),(0.091,-0.506),(0.088,-0.496),(0.091,-0.490),(0.087,-0.480),(0.090,-0.474),(0.086,-0.464),(0.089,-0.458),(0.085,-0.448),(0.088,-0.442),(0.084,-0.432),(0.087,-0.426),(0.083,-0.416),(0.086,-0.410),(0.082,-0.400),(0.086,-0.394),(0.090,-0.400),(0.094,-0.406),(0.092,-0.416),(0.096,-0.422),(0.094,-0.432),(0.098,-0.438),(0.096,-0.448),(0.100,-0.454),(0.098,-0.464),(0.102,-0.470),(0.100,-0.480),(0.104,-0.486),(0.102,-0.496),(0.106,-0.502),(0.104,-0.512),(0.108,-0.518),(0.106,-0.528),(0.102,-0.534),(0.104,-0.544),(0.100,-0.550),(0.102,-0.560),(0.098,-0.566),(0.100,-0.576),(0.096,-0.582),(0.098,-0.592),(0.094,-0.598),(0.096,-0.608),(0.092,-0.614),(0.094,-0.624),(0.090,-0.630),(0.092,-0.640),(0.088,-0.646),(0.090,-0.656),(0.086,-0.662),(0.088,-0.672),(0.084,-0.678),(0.086,-0.688),(0.082,-0.694),(0.084,-0.705)]

walk_t = [(0.130,-0.705),(0.126,-0.698),(0.128,-0.688),(0.124,-0.682),(0.126,-0.672),(0.122,-0.666),(0.124,-0.656),(0.120,-0.650),(0.122,-0.640),(0.118,-0.634),(0.120,-0.624),(0.116,-0.618),(0.118,-0.608),(0.114,-0.602),(0.116,-0.592),(0.112,-0.586),(0.114,-0.576),(0.110,-0.570),(0.112,-0.560),(0.108,-0.554),(0.110,-0.544),(0.106,-0.538),(0.108,-0.528),(0.104,-0.522),(0.106,-0.512),(0.102,-0.506),(0.104,-0.496),(0.100,-0.490),(0.102,-0.480),(0.106,-0.474),(0.104,-0.464),(0.108,-0.458),(0.112,-0.464),(0.116,-0.470),(0.114,-0.480),(0.118,-0.486),(0.122,-0.492),(0.120,-0.502),(0.124,-0.508),(0.128,-0.514),(0.126,-0.524),(0.130,-0.530),(0.134,-0.536),(0.132,-0.546),(0.136,-0.552),(0.140,-0.558),(0.138,-0.568),(0.142,-0.574),(0.146,-0.580),(0.144,-0.590),(0.148,-0.596),(0.152,-0.602),(0.150,-0.612),(0.154,-0.618),(0.158,-0.624),(0.156,-0.634),(0.160,-0.640),(0.164,-0.646),(0.162,-0.656),(0.166,-0.662),(0.170,-0.668),(0.168,-0.678),(0.172,-0.684),(0.176,-0.690),(0.174,-0.698),(0.178,-0.705)]

walk_u = [(0.030,-0.705),(0.034,-0.698),(0.032,-0.688),(0.036,-0.682),(0.034,-0.672),(0.038,-0.666),(0.036,-0.656),(0.040,-0.650),(0.038,-0.640),(0.042,-0.634),(0.040,-0.624),(0.044,-0.618),(0.042,-0.608),(0.046,-0.602),(0.044,-0.592),(0.048,-0.586),(0.046,-0.576),(0.050,-0.570),(0.048,-0.560),(0.052,-0.554),(0.050,-0.544),(0.054,-0.538),(0.052,-0.528),(0.056,-0.522),(0.054,-0.512),(0.058,-0.506),(0.062,-0.500),(0.066,-0.506),(0.064,-0.516),(0.068,-0.522),(0.066,-0.532),(0.070,-0.538),(0.068,-0.548),(0.072,-0.554),(0.070,-0.564),(0.074,-0.570),(0.072,-0.580),(0.076,-0.586),(0.074,-0.596),(0.078,-0.602),(0.076,-0.612),(0.080,-0.618),(0.078,-0.628),(0.082,-0.634),(0.080,-0.644),(0.084,-0.650),(0.082,-0.660),(0.078,-0.666),(0.080,-0.676),(0.076,-0.682),(0.078,-0.692),(0.074,-0.698),(0.076,-0.705)]

walk_v = [(0.000,-0.705),(0.006,-0.698),(0.010,-0.690),(0.016,-0.684),(0.020,-0.676),(0.026,-0.670),(0.030,-0.662),(0.036,-0.656),(0.040,-0.648),(0.046,-0.642),(0.050,-0.634),(0.056,-0.628),(0.058,-0.618),(0.060,-0.608),(0.056,-0.600),(0.050,-0.594),(0.046,-0.586),(0.040,-0.580),(0.036,-0.572),(0.030,-0.566),(0.026,-0.558),(0.020,-0.552),(0.016,-0.544),(0.010,-0.538),(0.006,-0.530),(0.000,-0.524),(-0.004,-0.516),(-0.010,-0.510),(-0.014,-0.502),(-0.018,-0.494),(-0.016,-0.484),(-0.020,-0.476),(-0.018,-0.466),(-0.014,-0.458),(-0.008,-0.452),(-0.004,-0.444),(0.002,-0.438),(0.006,-0.430),(0.012,-0.424),(0.016,-0.416),(0.022,-0.410),(0.026,-0.402),(0.032,-0.396),(0.036,-0.388),(0.042,-0.382),(0.046,-0.374),(0.050,-0.366),(0.048,-0.356),(0.052,-0.348),(0.048,-0.340),(0.044,-0.332),(0.040,-0.324),(0.036,-0.316),(0.032,-0.308),(0.034,-0.298),(0.030,-0.290),(0.034,-0.282),(0.040,-0.286),(0.044,-0.294),(0.050,-0.300),(0.054,-0.308),(0.060,-0.314),(0.064,-0.322),(0.070,-0.328),(0.074,-0.336),(0.080,-0.342),(0.084,-0.350),(0.090,-0.356),(0.094,-0.364),(0.100,-0.370),(0.104,-0.378),(0.110,-0.384),(0.112,-0.394),(0.116,-0.402),(0.114,-0.412),(0.118,-0.420),(0.114,-0.428),(0.110,-0.436),(0.106,-0.444),(0.100,-0.450),(0.096,-0.458),(0.090,-0.464),(0.086,-0.472),(0.080,-0.478),(0.076,-0.486),(0.070,-0.492),(0.066,-0.500),(0.060,-0.506),(0.058,-0.516),(0.062,-0.524),(0.060,-0.534),(0.064,-0.542),(0.068,-0.550),(0.074,-0.556),(0.078,-0.564),(0.084,-0.570),(0.088,-0.578),(0.094,-0.584),(0.098,-0.592),(0.104,-0.598),(0.108,-0.606),(0.112,-0.614),(0.118,-0.620),(0.122,-0.628),(0.126,-0.636),(0.124,-0.646),(0.128,-0.654),(0.126,-0.664),(0.130,-0.672),(0.128,-0.682),(0.132,-0.690),(0.130,-0.705)]

walk_w = [(-0.030,-0.705),(-0.034,-0.698),(-0.040,-0.692),(-0.044,-0.684),(-0.050,-0.678),(-0.054,-0.670),(-0.060,-0.664),(-0.064,-0.656),(-0.070,-0.650),(-0.072,-0.640),(-0.068,-0.632),(-0.070,-0.622),(-0.066,-0.614),(-0.062,-0.606),(-0.056,-0.600),(-0.052,-0.592),(-0.046,-0.586),(-0.042,-0.578),(-0.036,-0.572),(-0.032,-0.564),(-0.026,-0.558),(-0.022,-0.550),(-0.018,-0.542),(-0.020,-0.532),(-0.024,-0.524),(-0.030,-0.518),(-0.034,-0.510),(-0.040,-0.504),(-0.044,-0.496),(-0.050,-0.490),(-0.054,-0.482),(-0.060,-0.476),(-0.064,-0.468),(-0.070,-0.462),(-0.074,-0.454),(-0.080,-0.448),(-0.084,-0.440),(-0.088,-0.432),(-0.086,-0.422),(-0.090,-0.414),(-0.086,-0.406),(-0.082,-0.398),(-0.076,-0.392),(-0.072,-0.384),(-0.066,-0.378),(-0.062,-0.370),(-0.056,-0.364),(-0.050,-0.360),(-0.044,-0.364),(-0.040,-0.372),(-0.034,-0.378),(-0.030,-0.386),(-0.026,-0.394),(-0.028,-0.404),(-0.024,-0.412),(-0.026,-0.422),(-0.030,-0.430),(-0.034,-0.438),(-0.032,-0.448),(-0.036,-0.456),(-0.034,-0.466),(-0.030,-0.474),(-0.026,-0.482),(-0.020,-0.488),(-0.016,-0.496),(-0.010,-0.502),(-0.006,-0.510),(-0.004,-0.520),(-0.008,-0.528),(-0.006,-0.538),(-0.010,-0.546),(-0.008,-0.556),(-0.012,-0.564),(-0.010,-0.574),(-0.014,-0.582),(-0.020,-0.588),(-0.024,-0.596),(-0.030,-0.602),(-0.034,-0.610),(-0.032,-0.620),(-0.036,-0.628),(-0.034,-0.638),(-0.030,-0.646),(-0.026,-0.654),(-0.028,-0.664),(-0.024,-0.672),(-0.026,-0.682),(-0.022,-0.690),(-0.024,-0.705)]

walk_x = [(0.110,-0.705),(0.106,-0.698),(0.100,-0.692),(0.096,-0.684),(0.090,-0.678),(0.086,-0.670),(0.080,-0.664),(0.076,-0.656),(0.070,-0.650),(0.068,-0.640),(0.072,-0.632),(0.076,-0.624),(0.082,-0.618),(0.086,-0.610),(0.092,-0.604),(0.096,-0.596),(0.102,-0.590),(0.106,-0.582),(0.108,-0.572),(0.104,-0.564),(0.106,-0.554),(0.102,-0.546),(0.098,-0.538),(0.092,-0.532),(0.088,-0.524),(0.082,-0.518),(0.078,-0.510),(0.074,-0.502),(0.076,-0.492),(0.072,-0.484),(0.074,-0.474),(0.078,-0.466),(0.084,-0.460),(0.088,-0.452),(0.092,-0.444),(0.090,-0.434),(0.094,-0.426),(0.092,-0.416),(0.088,-0.408),(0.082,-0.402),(0.078,-0.394),(0.072,-0.388),(0.068,-0.380),(0.064,-0.372),(0.066,-0.362),(0.062,-0.354),(0.064,-0.344),(0.068,-0.336),(0.066,-0.326),(0.070,-0.318),(0.068,-0.308),(0.064,-0.300),(0.066,-0.290),(0.062,-0.282),(0.064,-0.272),(0.060,-0.264),(0.062,-0.254),(0.058,-0.246),(0.062,-0.240),(0.068,-0.246),(0.072,-0.254),(0.070,-0.264),(0.074,-0.272),(0.078,-0.280),(0.076,-0.290),(0.080,-0.298),(0.084,-0.306),(0.082,-0.316),(0.086,-0.324),(0.090,-0.332),(0.096,-0.338),(0.100,-0.346),(0.106,-0.352),(0.110,-0.360),(0.116,-0.366),(0.120,-0.374),(0.118,-0.384),(0.122,-0.392),(0.120,-0.402),(0.124,-0.410),(0.122,-0.420),(0.126,-0.428),(0.124,-0.438),(0.128,-0.446),(0.126,-0.456),(0.130,-0.464),(0.128,-0.474),(0.132,-0.482),(0.136,-0.490),(0.142,-0.496),(0.146,-0.504),(0.144,-0.514),(0.148,-0.522),(0.146,-0.532),(0.142,-0.540),(0.138,-0.548),(0.132,-0.554),(0.128,-0.562),(0.122,-0.568),(0.118,-0.576),(0.116,-0.586),(0.120,-0.594),(0.118,-0.604),(0.122,-0.612),(0.126,-0.620),(0.132,-0.626),(0.136,-0.634),(0.142,-0.640),(0.146,-0.648),(0.144,-0.658),(0.148,-0.666),(0.146,-0.676),(0.150,-0.684),(0.148,-0.694),(0.150,-0.705)]

walk_y = [(0.150,-0.705),(0.154,-0.698),(0.152,-0.688),(0.156,-0.680),(0.160,-0.672),(0.158,-0.662),(0.162,-0.654),(0.160,-0.644),(0.164,-0.636),(0.168,-0.628),(0.166,-0.618),(0.170,-0.610),(0.168,-0.600),(0.164,-0.592),(0.166,-0.582),(0.162,-0.574),(0.164,-0.564),(0.160,-0.556),(0.162,-0.546),(0.166,-0.538),(0.164,-0.528),(0.168,-0.520),(0.166,-0.510),(0.162,-0.502),(0.164,-0.492),(0.160,-0.484),(0.162,-0.474),(0.158,-0.466),(0.162,-0.458),(0.166,-0.450),(0.170,-0.442),(0.168,-0.432),(0.172,-0.424),(0.178,-0.428),(0.182,-0.436),(0.186,-0.444),(0.184,-0.454),(0.188,-0.462),(0.192,-0.470),(0.198,-0.476),(0.202,-0.484),(0.208,-0.490),(0.212,-0.498),(0.216,-0.506),(0.214,-0.516),(0.218,-0.524),(0.222,-0.532),(0.220,-0.542),(0.224,-0.550),(0.222,-0.560),(0.226,-0.568),(0.230,-0.576),(0.228,-0.586),(0.232,-0.594),(0.230,-0.604),(0.234,-0.612),(0.238,-0.620),(0.236,-0.630),(0.240,-0.638),(0.236,-0.646),(0.232,-0.654),(0.234,-0.664),(0.230,-0.672),(0.232,-0.682),(0.228,-0.690),(0.230,-0.705)]

walk_z = [(0.085,-0.705),(0.089,-0.698),(0.093,-0.690),(0.091,-0.680),(0.095,-0.672),(0.099,-0.664),(0.097,-0.654),(0.101,-0.646),(0.099,-0.636),(0.095,-0.628),(0.097,-0.618),(0.093,-0.610),(0.095,-0.600),(0.099,-0.592),(0.097,-0.582),(0.101,-0.574),(0.105,-0.566),(0.103,-0.556),(0.107,-0.548),(0.105,-0.538),(0.101,-0.530),(0.103,-0.520),(0.099,-0.512),(0.101,-0.502),(0.097,-0.494),(0.099,-0.484),(0.103,-0.476),(0.101,-0.466),(0.105,-0.458),(0.103,-0.448),(0.099,-0.440),(0.101,-0.430),(0.097,-0.422),(0.099,-0.412),(0.095,-0.404),(0.097,-0.394),(0.101,-0.386),(0.099,-0.376),(0.103,-0.368),(0.101,-0.358),(0.097,-0.350),(0.099,-0.340),(0.095,-0.332),(0.097,-0.322),(0.101,-0.314),(0.099,-0.304),(0.104,-0.300),(0.108,-0.308),(0.110,-0.318),(0.108,-0.328),(0.112,-0.336),(0.110,-0.346),(0.114,-0.354),(0.112,-0.364),(0.116,-0.372),(0.114,-0.382),(0.110,-0.390),(0.112,-0.400),(0.108,-0.408),(0.110,-0.418),(0.106,-0.426),(0.108,-0.436),(0.112,-0.444),(0.110,-0.454),(0.114,-0.462),(0.112,-0.472),(0.108,-0.480),(0.110,-0.490),(0.106,-0.498),(0.108,-0.508),(0.112,-0.516),(0.110,-0.526),(0.114,-0.534),(0.112,-0.544),(0.116,-0.552),(0.114,-0.562),(0.110,-0.570),(0.112,-0.580),(0.108,-0.588),(0.110,-0.598),(0.106,-0.606),(0.108,-0.616),(0.104,-0.624),(0.106,-0.634),(0.102,-0.642),(0.104,-0.652),(0.100,-0.660),(0.102,-0.670),(0.098,-0.678),(0.100,-0.688),(0.096,-0.696),(0.098,-0.705)]

walks = [walk_a, walk_b, walk_c, walk_d, walk_e, walk_f, walk_g, walk_h, walk_i, walk_j,
         walk_k, walk_l, walk_m, walk_n, walk_o, walk_p, walk_q, walk_r, walk_s, walk_t,
         walk_u, walk_v, walk_w, walk_x, walk_y, walk_z]

fig = plt.figure(figsize=(5.2, 4.81), dpi=100)
ax = fig.add_axes([0.141, 0.099, 0.798, 0.866])

# blocks with thick dark top/bottom edges
for (x0, x1, y0, y1) in (block_left, block_right):
    ax.add_patch(Rectangle((x0, y0), x1 - x0, y1 - y0, facecolor='#6a6a6a',
                           edgecolor='#959595', hatch='......', linewidth=0, zorder=1))
    ax.plot([x0, x1], [y1, y1], color='#111111', lw=2.4, solid_capstyle='butt', zorder=2)
    ax.plot([x0, x1], [y0, y0], color='#111111', lw=2.4, solid_capstyle='butt', zorder=2)

for w in walks:
    xs = [p[0] for p in w]
    ys = [p[1] for p in w]
    ax.plot(xs, ys, color='#2a2a2a', lw=1.05, alpha=0.8, zorder=3)

ax.set_xlim(*x_limits)
ax.set_ylim(*y_limits)
ax.xaxis.set_major_locator(FixedLocator(x_major_ticks))
ax.yaxis.set_major_locator(FixedLocator(y_major_ticks))
ax.set_xticklabels(x_tick_labels)
ax.set_yticklabels(y_tick_labels)
ax.xaxis.set_minor_locator(MultipleLocator(0.05))
ax.yaxis.set_minor_locator(MultipleLocator(0.1))
ax.tick_params(which='both', direction='in', top=True, right=True,
               color='#555555', width=0.8)
ax.tick_params(which='major', length=6, labelsize=16, labelcolor='#222222', pad=6)
ax.tick_params(which='minor', length=3)
for s in ax.spines.values():
    s.set_color('#555555')
    s.set_linewidth(1.0)

# dotted page frame
fig.patches.append(Rectangle((0.019, 0.0), 0.978, 0.992, transform=fig.transFigure,
                             fill=False, edgecolor='#c8c8c8', linestyle=':', linewidth=0.8))

fig.savefig('out.png', dpi=100)
